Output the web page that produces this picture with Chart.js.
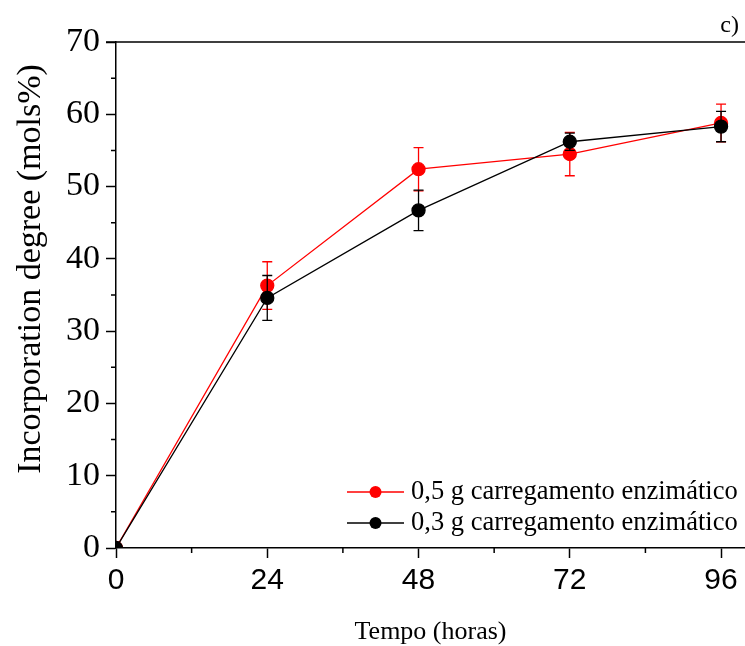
<!DOCTYPE html>
<html>
<head>
<meta charset="utf-8">
<script src="https://cdn.jsdelivr.net/npm/chart.js@4/dist/chart.umd.min.js"></script>
<style>
  body { margin: 0; background: #fff; }
  #wrap { width: 745px; height: 646px; }
</style>
</head>
<body>
<div id="wrap"><canvas id="chart"></canvas></div>
<script>
// reaction time (h)
var hours = [0, 24, 48, 72, 96];
// incorporation degree (mol%) and standard deviation
var load05 = [0, 36.3, 52.4, 54.5, 58.8];
var err05 = [0, 3.3, 3.0, 3.0, 2.6];
var load03 = [0, 34.6, 46.7, 56.2, 58.3];
var err03 = [0, 3.1, 2.8, 1.2, 2.1];
var seriesNames = ["0,5 g carregamento enzimático", "0,3 g carregamento enzimático"];
var xTitle = "Tempo (horas)";
var yTitle = "Incorporation degree (mols%)";
var panelTag = "c)";

var serif = "'Liberation Serif', 'Times New Roman', serif";
var sans = "'Liberation Sans', Arial, sans-serif";

var toPoints = function(xs, ys) {
  return xs.map((x, i) => ({ x: x, y: ys[i] }));
};

// vertical error bars with caps, drawn under each dataset's line and markers
var errorBars = {
  id: "errorBars",
  beforeDatasetDraw: function(chart, args) {
    var ds = chart.data.datasets[args.index];
    if (!ds.errors) return;
    var ctx = chart.ctx;
    var xs = chart.scales.x, ys = chart.scales.y;
    ctx.save();
    ctx.strokeStyle = ds.borderColor;
    ctx.lineWidth = 1.3;
    ds.data.forEach((p, i) => {
      var e = ds.errors[i];
      if (!e) return;
      var px = xs.getPixelForValue(p.x);
      var top = ys.getPixelForValue(p.y + e);
      var bot = ys.getPixelForValue(p.y - e);
      ctx.beginPath();
      ctx.moveTo(px, top); ctx.lineTo(px, bot);
      ctx.moveTo(px - 5, top); ctx.lineTo(px + 5, top);
      ctx.moveTo(px - 5, bot); ctx.lineTo(px + 5, bot);
      ctx.stroke();
    });
    ctx.restore();
  }
};

// minor ticks, top frame line, axis titles, legend and panel tag
var decorations = {
  id: "decorations",
  afterDraw: function(chart) {
    var ctx = chart.ctx;
    var area = chart.chartArea;
    var xs = chart.scales.x, ys = chart.scales.y;
    ctx.save();
    ctx.strokeStyle = "#000";
    ctx.lineWidth = 1.5;
    ctx.beginPath();
    for (var v = 12; v < xs.max; v += 24) {
      var px = xs.getPixelForValue(v);
      ctx.moveTo(px, area.bottom); ctx.lineTo(px, area.bottom + 5);
    }
    for (var w = 5; w < ys.max; w += 10) {
      var py = ys.getPixelForValue(w);
      ctx.moveTo(area.left, py); ctx.lineTo(area.left - 5, py);
    }
    ctx.moveTo(area.left - 10, area.top); ctx.lineTo(area.right, area.top);
    ctx.stroke();

    ctx.fillStyle = "#000";
    ctx.textAlign = "center";
    ctx.textBaseline = "middle";
    ctx.font = "26px " + serif;
    ctx.fillText(xTitle, (area.left + area.right) / 2, 632);

    ctx.save();
    ctx.translate(31, 269);
    ctx.rotate(-Math.PI / 2);
    ctx.font = "34px " + serif;
    ctx.fillText(yTitle, 0, 0);
    ctx.restore();

    // legend
    ctx.font = "26.5px " + serif;
    ctx.textAlign = "left";
    chart.data.datasets.forEach((ds, i) => {
      var y = 492 + i * 31;
      ctx.strokeStyle = ds.borderColor;
      ctx.lineWidth = 1.3;
      ctx.beginPath();
      ctx.moveTo(347, y); ctx.lineTo(404, y);
      ctx.stroke();
      ctx.fillStyle = ds.backgroundColor;
      ctx.beginPath();
      ctx.arc(375.5, y, 6, 0, Math.PI * 2);
      ctx.fill();
      ctx.fillStyle = "#000";
      ctx.fillText(ds.label, 411, y);
    });

    ctx.font = "24px " + serif;
    ctx.textAlign = "right";
    ctx.textBaseline = "alphabetic";
    ctx.fillText(panelTag, 739, 32);
    ctx.restore();
  }
};

var ctx = document.getElementById("chart").getContext("2d");
var myChart = new Chart(ctx, {
  type: "scatter",
  data: {
    datasets: [
      {
        label: seriesNames[0],
        data: toPoints(hours, load05),
        errors: err05,
        showLine: true,
        borderColor: "#ff0000",
        backgroundColor: "#ff0000",
        borderWidth: 1.3,
        pointRadius: 6.5,
        pointHoverRadius: 6.5,
        order: 2
      },
      {
        label: seriesNames[1],
        data: toPoints(hours, load03),
        errors: err03,
        showLine: true,
        borderColor: "#000000",
        backgroundColor: "#000000",
        borderWidth: 1.3,
        pointRadius: 6.5,
        pointHoverRadius: 6.5,
        order: 1
      }
    ]
  },
  options: {
    responsive: true,
    maintainAspectRatio: false,
    animation: false,
    layout: { autoPadding: false, padding: { top: 42, right: 0, left: 0, bottom: 0 } },
    plugins: {
      legend: { display: false },
      tooltip: { enabled: false }
    },
    scales: {
      x: {
        type: "linear",
        min: 0,
        max: 99.8,
        afterFit: s => {
          s.height = 98;
          s.paddingLeft = 0;
          s.paddingRight = 0;
        },
        grid: { drawOnChartArea: false, tickLength: 10, tickWidth: 1.5, tickColor: "#000" },
        border: { color: "#000", width: 1.5 },
        ticks: {
          stepSize: 24,
          includeBounds: false,
          padding: 5,
          color: "#000",
          font: { family: sans, size: 30 }
        }
      },
      y: {
        min: 0,
        max: 70,
        afterFit: s => { s.width = 116; },
        grid: { drawOnChartArea: false, tickLength: 10, tickWidth: 1.5, tickColor: "#000" },
        border: { color: "#000", width: 1.5 },
        ticks: {
          stepSize: 10,
          padding: 6,
          color: "#000",
          font: { family: serif, size: 34 }
        }
      }
    }
  },
  plugins: [errorBars, decorations]
});
</script>
</body>
</html>
